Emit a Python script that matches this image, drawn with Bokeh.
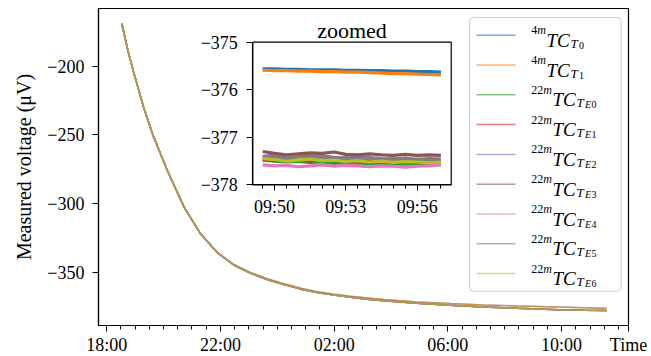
import pandas as pd
from bokeh.plotting import figure
from bokeh.models import (Range1d, LinearAxis, DatetimeAxis, FixedTicker,
                          DatetimeTickFormatter, CustomJSTickFormatter)
from bokeh.core.properties import value
from bokeh.embed import file_html
from bokeh.resources import INLINE

# ---------------- data ----------------
main_time = ["2023-01-01 18:32", "2023-01-01 18:45", "2023-01-01 18:57", "2023-01-01 19:18",
             "2023-01-01 19:39", "2023-01-01 20:08", "2023-01-01 20:43", "2023-01-01 21:18",
             "2023-01-01 21:53", "2023-01-01 22:28", "2023-01-01 23:04", "2023-01-01 23:40",
             "2023-01-02 00:14", "2023-01-02 00:50", "2023-01-02 01:24", "2023-01-02 02:00",
             "2023-01-02 02:35", "2023-01-02 03:10", "2023-01-02 03:45", "2023-01-02 04:55",
             "2023-01-02 06:05", "2023-01-02 07:15", "2023-01-02 08:26", "2023-01-02 09:53",
             "2023-01-02 10:47", "2023-01-02 11:35"]
main_4m = [-169.0, -189.0, -204.5, -230.0, -251.5, -276.0, -302.5, -322.0, -335.5, -344.5,
           -350.5, -355.0, -358.5, -361.8, -364.3, -366.2, -367.7, -369.0, -370.1, -371.8,
           -373.0, -374.0, -374.8, -375.6, -376.0, -376.4]
main_22m = [-169.0, -189.0, -204.5, -230.0, -251.5, -276.0, -302.5, -322.2, -335.8, -344.9,
            -351.0, -355.6, -359.2, -362.5, -365.0, -366.8, -368.4, -369.8, -371.0, -372.8,
            -374.3, -375.5, -376.4, -377.45, -377.8, -378.1]

inset_time = ["2023-01-02 09:49:30", "2023-01-02 09:50:00", "2023-01-02 09:50:30", "2023-01-02 09:51:00",
              "2023-01-02 09:51:30", "2023-01-02 09:52:00", "2023-01-02 09:52:30", "2023-01-02 09:53:00",
              "2023-01-02 09:53:30", "2023-01-02 09:54:00", "2023-01-02 09:54:30", "2023-01-02 09:55:00",
              "2023-01-02 09:55:30", "2023-01-02 09:56:00", "2023-01-02 09:56:30", "2023-01-02 09:57:00"]
inset_T0 = [-375.56, -375.56, -375.57, -375.57, -375.58, -375.58, -375.58, -375.59,
            -375.59, -375.60, -375.60, -375.61, -375.61, -375.62, -375.62, -375.63]
inset_T1 = [-375.59, -375.60, -375.60, -375.61, -375.61, -375.62, -375.62, -375.63,
            -375.63, -375.64, -375.65, -375.66, -375.66, -375.67, -375.68, -375.69]
inset_E0 = [-377.48, -377.50, -377.52, -377.51, -377.53, -377.52, -377.55, -377.54,
            -377.56, -377.55, -377.57, -377.58, -377.56, -377.57, -377.55, -377.56]
inset_E1 = [-377.47, -377.49, -377.46, -377.48, -377.50, -377.47, -377.49, -377.48,
            -377.50, -377.47, -377.49, -377.51, -377.48, -377.50, -377.47, -377.49]
inset_E2 = [-377.40, -377.38, -377.42, -377.40, -377.38, -377.39, -377.42, -377.44,
            -377.41, -377.43, -377.45, -377.46, -377.44, -377.47, -377.45, -377.46]
inset_E3 = [-377.30, -377.34, -377.37, -377.35, -377.33, -377.34, -377.31, -377.36,
            -377.37, -377.35, -377.37, -377.38, -377.36, -377.38, -377.37, -377.38]
inset_E4 = [-377.58, -377.60, -377.59, -377.62, -377.60, -377.58, -377.61, -377.59,
            -377.60, -377.62, -377.60, -377.61, -377.63, -377.61, -377.60, -377.58]
inset_E5 = [-377.42, -377.44, -377.43, -377.41, -377.44, -377.42, -377.45, -377.43,
            -377.46, -377.44, -377.47, -377.45, -377.48, -377.46, -377.47, -377.48]
inset_E6 = [-377.45, -377.47, -377.50, -377.48, -377.46, -377.49, -377.48, -377.51,
            -377.49, -377.52, -377.50, -377.53, -377.51, -377.52, -377.54, -377.52]

series_main = [main_4m, main_4m, main_22m, main_22m, main_22m, main_22m, main_22m, main_22m, main_22m]
series_inset = [inset_T0, inset_T1, inset_E0, inset_E1, inset_E2, inset_E3, inset_E4, inset_E5, inset_E6]
colors = ["#1f77b4", "#ff7f0e", "#2ca02c", "#d62728", "#9467bd", "#8c564b", "#e377c2", "#7f7f7f", "#bcbd22"]
sup_digits = ["4", "4", "22", "22", "22", "22", "22", "22", "22"]
subsub_letter = ["", "", "E", "E", "E", "E", "E", "E", "E"]
subsub_digit = ["0", "1", "0", "1", "2", "3", "4", "5", "6"]

main_tick_labels = ["2023-01-01 18:00", "2023-01-01 22:00", "2023-01-02 02:00",
                    "2023-01-02 06:00", "2023-01-02 10:00"]
main_y_ticks = [-350, -300, -250, -200]
inset_tick_labels = ["2023-01-02 09:50", "2023-01-02 09:53", "2023-01-02 09:56"]
inset_y_ticks = [-378, -377, -376, -375]
x_label = "Time"
y_label = "Measured voltage (μV)"
inset_title = "zoomed"

# axis limits
X_LIM = ("2023-01-01 17:42:42", "2023-01-02 12:21:15")
Y_LIM = (-389.0, -157.9)
INSET_X_LIM = ("2023-01-02 09:49:05", "2023-01-02 09:57:26")
INSET_Y_LIM = (-378.0, -375.0)


def ms(lst):
    return [float(v) for v in (pd.to_datetime(list(lst)).astype("int64") // 10**6)]


# ---------------- layout constants ----------------
FW, FH = 530, 317
IN_L, IN_R, IN_T, IN_B = 154.3, 352.7, 33.7, 176.3   # inset box in frame pixels
FONT = "Liberation Serif"
FS = "18px"

x0, x1 = ms(X_LIM)
ix0, ix1 = ms(INSET_X_LIM)
sx = (ix1 - ix0) / (IN_R - IN_L)
iy_bot, iy_top = INSET_Y_LIM
sy = (iy_top - iy_bot) / (IN_B - IN_T)

p = figure(frame_width=FW, frame_height=FH, x_axis_type="datetime",
           x_range=Range1d(x0, x1), y_range=Range1d(*Y_LIM),
           output_backend="svg", toolbar_location=None,
           min_border_left=98, min_border_right=23, min_border_top=8, min_border_bottom=31)
p.extra_x_ranges = {"ix": Range1d(ix0 - IN_L * sx, ix1 + (FW - IN_R) * sx),
                    "px": Range1d(0, FW)}
p.extra_y_ranges = {"iy": Range1d(iy_bot - (FH - IN_B) * sy, iy_top + IN_T * sy),
                    "py": Range1d(FH, 0)}
p.grid.visible = False
p.outline_line_color = "black"
p.outline_line_width = 1.2
p.background_fill_color = "white"
p.border_fill_color = "white"

fmt_time = DatetimeTickFormatter(microseconds="%H:%M", milliseconds="%H:%M", seconds="%H:%M",
                                 minsec="%H:%M", minutes="%H:%M", hourmin="%H:%M", hours="%H:%M",
                                 days="%H:%M", months="%H:%M", years="%H:%M")
# main x axis: clock labels, plus the axis name printed at the right end of the axis
fmt_main_x = CustomJSTickFormatter(args=dict(end=x1, name=x_label), code="""
if (Math.abs(tick - end) < 1) { return name; }
const d = new Date(tick);
const h = String(d.getUTCHours()).padStart(2, "0");
const m = String(d.getUTCMinutes()).padStart(2, "0");
return h + ":" + m;
""")
fmt_minus = CustomJSTickFormatter(code="return (tick < 0 ? '\u2212' : '') + Math.abs(tick).toFixed(0);")


def style_axis(ax):
    ax.axis_line_color = "black"
    ax.axis_line_width = 1.2
    ax.major_tick_line_color = "black"
    ax.minor_tick_line_color = "black"
    ax.major_tick_out = 6
    ax.major_tick_in = 0
    ax.minor_tick_out = 4
    ax.minor_tick_in = 0
    ax.major_label_text_font = FONT
    ax.major_label_text_font_size = FS
    ax.major_label_text_color = "black"


# main axes
xa = p.xaxis[0]
minor_main = ms(pd.date_range("2023-01-01 18:30", "2023-01-02 12:00", freq="30min"))
xa.ticker = FixedTicker(ticks=ms(main_tick_labels) + [x1], minor_ticks=minor_main)
xa.formatter = fmt_main_x
style_axis(xa)
xa.major_label_standoff = 3

ya = p.yaxis[0]
ya.ticker = FixedTicker(ticks=main_y_ticks)
ya.formatter = fmt_minus
style_axis(ya)
ya.major_label_standoff = 8
ya.axis_label = y_label
ya.axis_label_text_font = FONT
ya.axis_label_text_font_size = "20px"
ya.axis_label_text_font_style = "normal"
ya.axis_label_text_color = "black"
ya.axis_label_standoff = 9

# main curves
tmain = ms(main_time)
for vals, c in zip(series_main, colors):
    p.line(tmain, vals, line_color=c, line_width=1.5, line_alpha=0.6)

# inset frame, lines and axes
p.quad(left=ix0, right=ix1, bottom=iy_bot, top=iy_top, x_range_name="ix", y_range_name="iy",
       fill_color="white", line_color="black", line_width=1.2)
tins = ms(inset_time)
for vals, c in zip(series_inset, colors):
    p.line(tins, vals, line_color=c, line_width=3.2, x_range_name="ix", y_range_name="iy")

iya = LinearAxis(x_range_name="ix", y_range_name="iy", fixed_location=ix0,
                 bounds=(iy_bot, iy_top), ticker=FixedTicker(ticks=inset_y_ticks), formatter=fmt_minus)
style_axis(iya)
iya.major_label_standoff = 9
p.add_layout(iya, "left")

minor_inset = ms(pd.date_range("2023-01-02 09:49:30", "2023-01-02 09:57:00", freq="30s"))
ixa = DatetimeAxis(x_range_name="ix", y_range_name="iy", fixed_location=iy_bot,
                   bounds=(ix0, ix1), ticker=FixedTicker(ticks=ms(inset_tick_labels), minor_ticks=minor_inset),
                   formatter=fmt_time)
style_axis(ixa)
ixa.major_label_standoff = 6
p.add_layout(ixa, "below")

p.text(x=[(ix0 + ix1) / 2], y=[iy_top], text=[inset_title], y_offset=-11.5,
       x_range_name="ix", y_range_name="iy", text_font=value(FONT), text_font_size="22px",
       text_align="center", text_baseline="alphabetic", text_color="black")

# legend (drawn in frame pixel coordinates)
LB_L, LB_R, LB_T, LB_B = 371, 522.7, 9, 282.7
p.quad(left=LB_L, right=LB_R, top=LB_T, bottom=LB_B, x_range_name="px", y_range_name="py",
       fill_color="white", fill_alpha=0.8, line_color="#cccccc", line_width=1, border_radius=4)
ROW0, DY = 26.7, 29.8
n = len(colors)
rows_y = [ROW0 + DY * i for i in range(n)]
for i, c in enumerate(colors):
    p.line([378, 417], [rows_y[i], rows_y[i]], line_color=c, line_width=1.5, line_alpha=0.6,
           x_range_name="px", y_range_name="py")

fs_main, fs_sup, fs_sub, fs_ss = 19, 12, 13, 10
X0 = 432.7
base = [y + 5 for y in rows_y]
sup_x, m_x, tc_x, t_x, e_x, d_x = [], [], [], [], [], []
for i in range(n):
    xs = X0
    sup_x.append(xs)
    xs += 0.5 * fs_sup * len(sup_digits[i])
    m_x.append(xs)
    xs += 9.3
    tc_x.append(xs)
    xs += 24.0
    t_x.append(xs)
    xs += 8.5
    e_x.append(xs)
    xs += 6.5 * (1 if subsub_letter[i] else 0)
    d_x.append(xs)

common = dict(x_range_name="px", y_range_name="py", text_font=value(FONT),
              text_baseline="alphabetic", text_align="left", text_color="black")
p.text(x=sup_x, y=[b - 10 for b in base], text=sup_digits, text_font_size=f"{fs_sup}px", **common)
p.text(x=m_x, y=[b - 10 for b in base], text=["m"] * n, text_font_size=f"{fs_sup}px",
       text_font_style="italic", **common)
p.text(x=tc_x, y=base, text=["TC"] * n, text_font_size=f"{fs_main}px", text_font_style="italic", **common)
p.text(x=t_x, y=[b + 3 for b in base], text=["T"] * n, text_font_size=f"{fs_sub}px",
       text_font_style="italic", **common)
p.text(x=e_x, y=[b + 5 for b in base], text=subsub_letter, text_font_size=f"{fs_ss}px",
       text_font_style="italic", **common)
p.text(x=d_x, y=[b + 5 for b in base], text=subsub_digit, text_font_size=f"{fs_ss}px", **common)

open("out.html", "w").write(file_html(p, INLINE))
